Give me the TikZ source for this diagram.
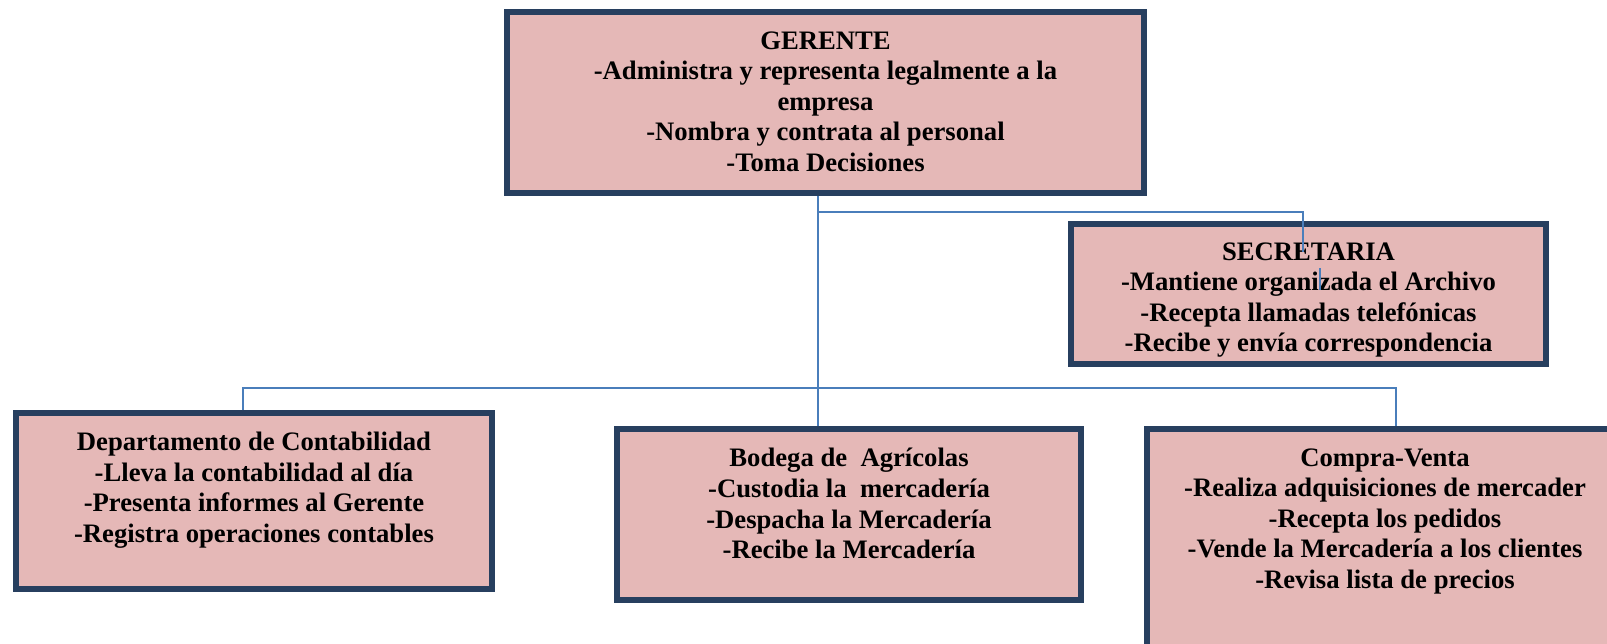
\documentclass[tikz,border=0pt]{standalone}
\usepackage{fontspec}
\setmainfont{Liberation Serif}
\definecolor{boxfill}{HTML}{E5B8B7}
\definecolor{boxline}{HTML}{273F5F}
\definecolor{connline}{HTML}{4A7EBB}
\begin{document}
\begin{tikzpicture}[x=0.75pt,y=-0.75pt,
  box/.style={rectangle, draw=boxline, line width=3.9pt, fill=boxfill, inner sep=0pt},
  txt/.style={align=center, font=\fontsize{20}{22.9}\selectfont\bfseries, inner sep=0pt, anchor=north},
  conn/.style={draw=connline, line width=1.1pt}]
\useasboundingbox (0,0) rectangle (1607,643);
\begin{scope}
\clip (0,0) rectangle (1607,643);
\node[box, minimum width=477.75pt, minimum height=135.75pt] (ger) at (825.5,102.5) {};
\node[box, minimum width=356.25pt, minimum height=105pt] (sec) at (1308.5,294) {};
\node[box, minimum width=357pt, minimum height=132pt] (cont) at (254,501) {};
\node[box, minimum width=348pt, minimum height=128.25pt] (bod) at (849,514.5) {};
\node[box, minimum width=354pt, minimum height=189pt] (cv) at (1383,555) {};

\node[txt] (gert) at ([yshift=-16.3pt]ger.north) {GERENTE\\-Administra y representa legalmente a la\\empresa\\-Nombra y contrata al personal\\-Toma Decisiones};
\node[txt] (sect) at ([yshift=-15.8pt]sec.north) {SECRETARIA\\-Mantiene organizada el Archivo\\-Recepta llamadas telefónicas\\-Recibe y envía correspondencia};
\node[txt] (contt) at ([yshift=-16.3pt]cont.north) {Departamento de Contabilidad\\-Lleva la contabilidad al día\\-Presenta informes al Gerente\\-Registra operaciones contables};
\node[txt] (bodt) at ([yshift=-16.3pt]bod.north) {Bodega de\ \ Agrícolas\\-Custodia la\ \ mercadería\\-Despacha la Mercadería\\-Recibe la Mercadería};
\node[txt] (cvt) at ([yshift=-16.3pt]cv.north -| 1385,0) {Compra-Venta\\-Realiza adquisiciones de mercader\\-Recepta los pedidos\\-Vende la Mercadería a los clientes\\-Revisa lista de precios};

\coordinate (t0) at (818,212);
\coordinate (t1) at (1303,212);
\coordinate (secend) at (1303,252);
\coordinate (stuba) at (1320,268);
\coordinate (stubb) at (1320,290);
\coordinate (hl) at (243,388);
\coordinate (hr) at (1396,388);

\draw[conn] (ger.south -| t0) -- (t0) -- (t1) -- (secend);
\draw[conn] (t0) -- (bod.north -| t0);
\draw[conn] (cont.north -| hl) -- (hl) -- (hr) -- (cv.north -| hr);
\draw[conn] (stuba) -- (stubb);
\end{scope}
\end{tikzpicture}
\end{document}
